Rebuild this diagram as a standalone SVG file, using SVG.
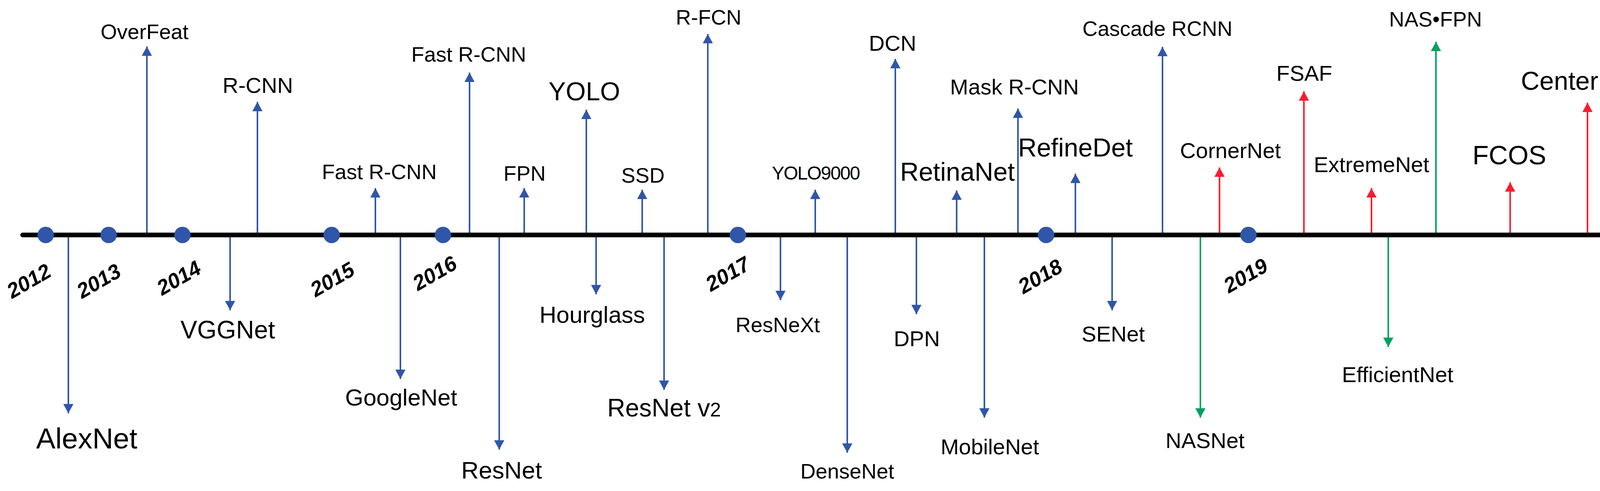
<svg xmlns="http://www.w3.org/2000/svg" width="4338" height="1258" viewBox="0 0 4338 1258">
<style>
text{font-family:"Liberation Sans",Arial,sans-serif;fill:#000;text-anchor:middle}
.yr{font-weight:bold;font-style:italic;font-size:54px}
.b{stroke:#2f56a8;stroke-width:4;marker-end:url(#mb)}
.r{stroke:#ff1a2e;stroke-width:4;marker-end:url(#mr)}
.g{stroke:#00a060;stroke-width:4;marker-end:url(#mg)}
.dot{fill:#2f56a8}
</style>
<defs>
<marker id="mb" viewBox="0 0 24 26" refX="24" refY="13" markerWidth="24" markerHeight="26" markerUnits="userSpaceOnUse" orient="auto"><path d="M0,0L24,13L0,26z" fill="#2f56a8"/></marker>
<marker id="mr" viewBox="0 0 24 26" refX="24" refY="13" markerWidth="24" markerHeight="26" markerUnits="userSpaceOnUse" orient="auto"><path d="M0,0L24,13L0,26z" fill="#ff1a2e"/></marker>
<marker id="mg" viewBox="0 0 24 26" refX="24" refY="13" markerWidth="24" markerHeight="26" markerUnits="userSpaceOnUse" orient="auto"><path d="M0,0L24,13L0,26z" fill="#00a060"/></marker>
</defs>
<rect width="4338" height="1258" fill="#fff"/>
<g id="axis">
<line x1="58" y1="602" x2="4280" y2="602" stroke="#000" stroke-width="12" stroke-linecap="round"/>
<path d="M4264,576L4332,602L4264,630z" fill="#000" stroke="#000" stroke-width="6" stroke-linejoin="round"/>
</g>
<g id="connectors">
<line class="b" x1="175" y1="608" x2="175" y2="1059"/>
<line class="b" x1="376" y1="596" x2="376" y2="119"/>
<line class="b" x1="589" y1="608" x2="589" y2="795"/>
<line class="b" x1="659" y1="596" x2="659" y2="261"/>
<line class="b" x1="961" y1="596" x2="961" y2="482"/>
<line class="b" x1="1025" y1="608" x2="1025" y2="971"/>
<line class="b" x1="1202" y1="596" x2="1202" y2="186"/>
<line class="b" x1="1278" y1="608" x2="1278" y2="1152"/>
<line class="b" x1="1342" y1="596" x2="1342" y2="482"/>
<line class="b" x1="1501" y1="596" x2="1501" y2="281"/>
<line class="b" x1="1526" y1="608" x2="1526" y2="754"/>
<line class="b" x1="1644" y1="596" x2="1644" y2="486"/>
<line class="b" x1="1700" y1="608" x2="1700" y2="999"/>
<line class="b" x1="1812" y1="596" x2="1812" y2="87"/>
<line class="b" x1="1998" y1="608" x2="1998" y2="769"/>
<line class="b" x1="2087" y1="596" x2="2087" y2="486"/>
<line class="b" x1="2169" y1="608" x2="2169" y2="1160"/>
<line class="b" x1="2292" y1="596" x2="2292" y2="151"/>
<line class="b" x1="2346" y1="608" x2="2346" y2="805"/>
<line class="b" x1="2449" y1="596" x2="2449" y2="488"/>
<line class="b" x1="2520" y1="608" x2="2520" y2="1070"/>
<line class="b" x1="2606" y1="596" x2="2606" y2="278"/>
<line class="b" x1="2753" y1="596" x2="2753" y2="445"/>
<line class="b" x1="2847" y1="608" x2="2847" y2="795"/>
<line class="b" x1="2976" y1="596" x2="2976" y2="120"/>
<line class="g" x1="3073" y1="608" x2="3073" y2="1070"/>
<line class="r" x1="3122" y1="596" x2="3122" y2="429"/>
<line class="r" x1="3338" y1="596" x2="3338" y2="234"/>
<line class="r" x1="3511" y1="596" x2="3511" y2="482"/>
<line class="g" x1="3554" y1="608" x2="3554" y2="889"/>
<line class="g" x1="3676" y1="596" x2="3676" y2="107"/>
<line class="r" x1="3866" y1="596" x2="3866" y2="467"/>
<line class="r" x1="4064" y1="596" x2="4064" y2="263"/>
<line class="g" x1="4232" y1="596" x2="4232" y2="98"/>
</g>
<g id="years">
<circle class="dot" cx="117" cy="602" r="21"/><text class="yr" transform="translate(83,736) rotate(-30)">2012</text>
<circle class="dot" cx="278" cy="602" r="21"/><text class="yr" transform="translate(262,736) rotate(-30)">2013</text>
<circle class="dot" cx="467" cy="602" r="21"/><text class="yr" transform="translate(467,728) rotate(-30)">2014</text>
<circle class="dot" cx="849" cy="602" r="21"/><text class="yr" transform="translate(860,732) rotate(-30)">2015</text>
<circle class="dot" cx="1134" cy="602" r="21"/><text class="yr" transform="translate(1122,716) rotate(-30)">2016</text>
<circle class="dot" cx="1889" cy="602" r="21"/><text class="yr" transform="translate(1872,718) rotate(-30)">2017</text>
<circle class="dot" cx="2678" cy="602" r="21"/><text class="yr" transform="translate(2672,724) rotate(-30)">2018</text>
<circle class="dot" cx="3196" cy="602" r="21"/><text class="yr" transform="translate(3198,722) rotate(-30)">2019</text>
</g>
<g id="n-alexnet"><text x="222" y="1149" font-size="74">AlexNet</text></g>
<g id="n-overfeat"><text x="370" y="100" font-size="54">OverFeat</text></g>
<g id="n-vggnet"><text x="583" y="867" font-size="64">VGGNet</text></g>
<g id="n-rcnn"><text x="660" y="238" font-size="56">R-CNN</text></g>
<g id="n-fastrcnn1"><text x="971" y="459" font-size="54">Fast R-CNN</text></g>
<g id="n-googlenet"><text x="1027" y="1039" font-size="60">GoogleNet</text></g>
<g id="n-fastrcnn2"><text x="1200" y="158" font-size="54">Fast R-CNN</text></g>
<g id="n-resnet"><text x="1284" y="1226" font-size="62">ResNet</text></g>
<g id="n-fpn"><text x="1343" y="463" font-size="54">FPN</text></g>
<g id="n-yolo"><text x="1496" y="257" font-size="66">YOLO</text></g>
<g id="n-hourglass"><text x="1516" y="827" font-size="60">Hourglass</text></g>
<g id="n-ssd"><text x="1646" y="468" font-size="54">SSD</text></g>
<g id="n-resnetv2"><text x="1700" y="1067" font-size="64">ResNet v<tspan font-size="50">2</tspan></text></g>
<g id="n-rfcn"><text x="1814" y="63" font-size="54">R-FCN</text></g>
<g id="n-resnext"><text x="1991" y="851" font-size="54">ResNeXt</text></g>
<g id="n-yolo9000"><text x="2088" y="460" font-size="48" letter-spacing="-2">YOLO9000</text></g>
<g id="n-densenet"><text x="2169" y="1226" font-size="54">DenseNet</text></g>
<g id="n-dcn"><text x="2285" y="130" font-size="56">DCN</text></g>
<g id="n-dpn"><text x="2347" y="887" font-size="56">DPN</text></g>
<g id="n-retinanet"><text x="2451" y="463" font-size="66">RetinaNet</text></g>
<g id="n-mobilenet"><text x="2534" y="1164" font-size="56">MobileNet</text></g>
<g id="n-maskrcnn"><text x="2597" y="242" font-size="56">Mask R-CNN</text></g>
<g id="n-refinedet"><text x="2753" y="401" font-size="66">RefineDet</text></g>
<g id="n-senet"><text x="2850" y="875" font-size="56">SENet</text></g>
<g id="n-cascade"><text x="2963" y="92" font-size="54">Cascade RCNN</text></g>
<g id="n-nasnet"><text x="3085" y="1148" font-size="56">NASNet</text></g>
<g id="n-cornernet"><text x="3150" y="405" font-size="56">CornerNet</text></g>
<g id="n-fsaf"><text x="3339" y="207" font-size="56">FSAF</text></g>
<g id="n-extremenet"><text x="3511" y="441" font-size="56">ExtremeNet</text></g>
<g id="n-efficientnet"><text x="3578" y="979" font-size="56">EfficientNet</text></g>
<g id="n-nasfpn"><text x="3675" y="68" font-size="54">NAS•FPN</text></g>
<g id="n-fcos"><text x="3864" y="421" font-size="68">FCOS</text></g>
<g id="n-centernet"><text x="4044" y="230" font-size="66">CenterNet</text></g>
<g id="n-detnas"><text x="4223" y="63" font-size="64">Detnas</text></g>
</svg>
